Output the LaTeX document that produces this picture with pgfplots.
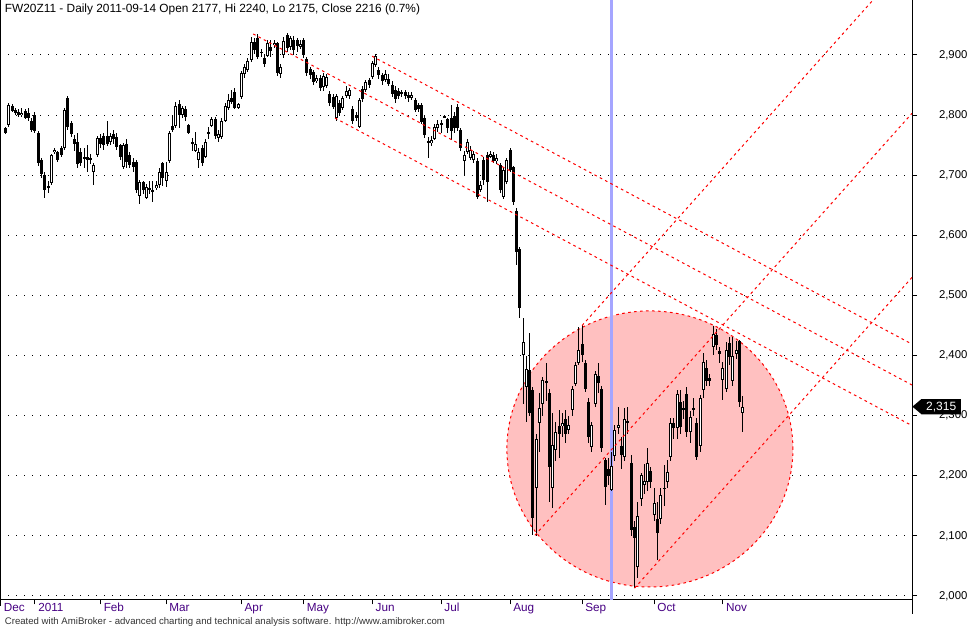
\documentclass[border=0pt]{standalone}
\usepackage{pgfplots}
\pgfplotsset{compat=1.18}
\usepackage{pgfplotstable}
\usepackage{fontspec}
\setmainfont{Liberation Sans}
\usetikzlibrary{shapes.symbols}

\definecolor{zonepink}{RGB}{255,192,192}
\definecolor{selblue}{RGB}{165,165,255}
\definecolor{datecol}{RGB}{70,0,130}

% FW20Z11 daily bars, i = trading day (0 = 2011-01-03)
\pgfplotstableread{
i O H L C
-9 2779 2781 2769 2771
-8 2783 2820 2780 2817
-7 2815 2818 2805 2807
-6 2808 2811 2800 2803
-5 2805 2810 2797 2800
-4 2800 2812 2797 2804
-3 2806 2810 2793 2796
-2 2803 2812 2790 2795
-1 2790 2795 2772 2775
0 2800 2805 2770 2773
1 2771 2773 2715 2720
2 2725 2728 2695 2702
3 2700 2705 2662 2675
4 2682 2690 2670 2678
5 2687 2736 2683 2733
6 2738 2746 2735 2742
7 2738 2741 2722 2726
8 2745 2748 2730 2733
9 2745 2812 2742 2808
10 2828 2832 2776 2780
11 2787 2790 2763 2768
12 2760 2767 2740 2752
13 2755 2770 2712 2718
14 2738 2745 2715 2720
15 2727 2745 2712 2730
16 2730 2750 2705 2725
17 2725 2735 2718 2728
18 2705 2720 2684 2717
19 2733 2765 2730 2762
20 2762 2768 2745 2752
21 2765 2770 2742 2750
22 2765 2790 2748 2752
23 2755 2770 2750 2765
24 2768 2775 2752 2760
25 2764 2770 2742 2747
26 2750 2752 2725 2731
27 2714 2753 2710 2750
28 2752 2760 2712 2722
29 2733 2738 2712 2717
30 2722 2728 2705 2714
31 2722 2725 2670 2675
32 2665 2692 2652 2688
33 2688 2690 2668 2675
34 2662 2685 2660 2680
35 2678 2690 2668 2675
36 2675 2690 2655 2674
37 2678 2690 2675 2683
38 2683 2712 2678 2705
39 2720 2722 2682 2696
40 2690 2722 2680 2705
41 2723 2773 2720 2770
42 2782 2800 2772 2776
43 2782 2822 2778 2815
44 2818 2825 2778 2800
45 2800 2815 2795 2812
46 2810 2815 2790 2797
47 2783 2785 2768 2770
48 2755 2762 2740 2752
49 2740 2772 2738 2752
50 2725 2745 2712 2739
51 2745 2750 2715 2720
52 2731 2760 2728 2756
53 2772 2780 2760 2768
54 2782 2797 2780 2793
55 2793 2797 2760 2765
56 2762 2775 2755 2768
57 2764 2795 2760 2790
58 2790 2820 2788 2815
59 2812 2835 2808 2825
60 2828 2842 2818 2822
61 2838 2845 2810 2812
62 2812 2820 2810 2818
63 2830 2873 2826 2870
64 2868 2885 2862 2880
65 2875 2895 2872 2890
66 2892 2930 2888 2922
67 2922 2928 2902 2908
68 2928 2935 2893 2897
69 2904 2910 2897 2905
70 2895 2900 2880 2885
71 2898 2925 2897 2920
72 2913 2925 2897 2906
73 2916 2925 2912 2920
74 2920 2922 2865 2870
75 2869 2885 2862 2880
76 2900 2930 2895 2924
77 2933 2936 2905 2911
78 2914 2932 2908 2928
79 2925 2932 2900 2908
80 2925 2928 2905 2915
81 2914 2925 2910 2918
82 2925 2928 2895 2900
83 2894 2896 2865 2870
84 2876 2880 2860 2866
85 2872 2875 2850 2855
86 2857 2866 2853 2861
87 2861 2866 2840 2845
88 2847 2870 2840 2865
89 2848 2868 2845 2863
90 2835 2840 2815 2820
91 2830 2835 2810 2813
92 2795 2835 2790 2831
93 2820 2825 2798 2804
94 2812 2832 2808 2828
95 2832 2848 2828 2840
96 2832 2845 2826 2842
97 2811 2815 2785 2790
98 2801 2805 2790 2796
99 2781 2828 2778 2825
100 2843 2848 2822 2826
101 2842 2858 2838 2855
102 2858 2862 2845 2850
103 2864 2890 2860 2886
104 2883 2902 2880 2898
105 2875 2880 2860 2867
106 2867 2870 2850 2856
107 2858 2875 2855 2869
108 2860 2868 2848 2852
109 2850 2856 2830 2835
110 2842 2848 2820 2826
111 2840 2845 2826 2832
112 2835 2842 2830 2838
113 2838 2842 2826 2832
114 2834 2838 2822 2828
115 2828 2838 2825 2834
116 2825 2828 2805 2808
117 2817 2820 2805 2810
118 2817 2820 2785 2789
119 2795 2798 2762 2767
120 2754 2764 2728 2757
121 2754 2765 2748 2758
122 2761 2786 2758 2781
123 2778 2792 2772 2786
124 2785 2792 2770 2787
125 2798 2800 2795 2797
126 2793 2796 2770 2778
127 2795 2817 2759 2773
128 2798 2805 2770 2778
129 2814 2818 2774 2778
130 2775 2778 2740 2745
131 2724 2740 2700 2734
132 2739 2760 2735 2756
133 2728 2748 2725 2742
134 2725 2740 2720 2736
135 2723 2728 2660 2664
136 2676 2690 2672 2684
137 2725 2730 2684 2692
138 2734 2738 2656 2689
139 2731 2740 2728 2736
140 2734 2738 2720 2723
141 2723 2735 2718 2728
142 2717 2720 2670 2676
143 2664 2712 2660 2709
144 2689 2728 2685 2725
145 2742 2745 2705 2709
146 2714 2716 2650 2656
147 2641 2645 2551 2573
148 2578 2580 2462 2479
149 2401 2462 2320 2423
150 2348 2400 2290 2377
151 2376 2437 2300 2305
152 2343 2347 2101 2129
153 2179 2270 2099 2261
154 2287 2337 2240 2312
155 2319 2365 2300 2360
156 2357 2387 2325 2354
157 2338 2345 2157 2215
158 2179 2304 2146 2251
159 2243 2290 2225 2273
160 2282 2310 2230 2270
161 2282 2305 2265 2287
162 2295 2310 2255 2270
163 2276 2300 2270 2284
164 2309 2350 2300 2345
165 2353 2390 2350 2384
166 2388 2448 2385 2409
167 2419 2450 2390 2401
168 2387 2393 2340 2345
169 2323 2330 2255 2265
170 2248 2290 2240 2284
171 2319 2375 2315 2370
172 2366 2387 2337 2355
173 2345 2350 2240 2246
174 2226 2230 2151 2181
175 2212 2230 2185 2199
176 2177 2240 2175 2216
177 2233 2285 2225 2276
178 2280 2315 2270 2284
179 2250 2265 2212 2235
180 2232 2312 2225 2295
181 2291 2315 2270 2288
182 2222 2235 2100 2109
183 2115 2125 2013 2097
184 2049 2157 2030 2133
185 2162 2205 2150 2201
186 2184 2220 2170 2192
187 2189 2246 2175 2221
188 2208 2215 2179 2189
189 2134 2179 2125 2155
190 2128 2157 2060 2104
191 2128 2179 2120 2168
192 2178 2218 2150 2180
193 2190 2226 2180 2207
194 2232 2296 2225 2287
195 2287 2296 2262 2279
196 2279 2343 2262 2336
197 2322 2343 2270 2281
198 2313 2325 2295 2310
199 2336 2348 2265 2273
200 2272 2307 2254 2298
201 2312 2330 2300 2309
202 2287 2296 2226 2232
203 2249 2335 2240 2329
204 2343 2404 2330 2390
205 2379 2393 2350 2357
206 2362 2370 2350 2358
207 2415 2449 2401 2436
208 2434 2445 2410 2418
209 2408 2415 2387 2403
210 2359 2390 2326 2379
211 2345 2423 2340 2409
212 2421 2431 2385 2398
213 2357 2431 2350 2399
214 2402 2425 2395 2409
215 2424 2426 2315 2322
216 2305 2333 2273 2315
}\bars

\begin{document}
\begin{tikzpicture}
\begin{axis}[
    at={(0pt,0pt)}, anchor=north west,
    scale only axis, width=684pt, height=449.6pt,
    set layers, clip mode=individual,
    xmin=-10.68, xmax=267.7, ymin=1994.2, ymax=2991.5,
    axis x line*=bottom, axis y line*=right,
    axis line style={-, black, line width=0.75pt},
    xtick={-10.5,0,20,40,63,82,103,124,145,167,189,210},
    xticklabels={Dec,2011,Feb,Mar,Apr,May,Jun,Jul,Aug,Sep,Oct,Nov},
    ytick={2000,2100,...,2900},
    tick align=outside, major tick length=3.75pt,
    tick style={black, line width=0.75pt},
    xticklabel style={font=\fontsize{8.8}{10}\selectfont, text=datecol,
        anchor=base west, inner sep=0pt, xshift=2.25pt, yshift=-5pt},
    yticklabel style={font=\fontsize{8.5}{10}\selectfont, anchor=east,
        inner sep=0pt, xshift=38pt},
    /pgf/number format/1000 sep={,},
    /pgf/number format/assume math mode=true,
    ymajorgrids,
    grid style={black, line width=0.75pt, dash pattern=on 0.75pt off 5.25pt},
    candle/.style={draw=none, mark=none,
        error bars/.cd, y dir=both, y explicit, error mark=none,
        error bar style={solid, line cap=butt, #1}},
]
% highlighted zone
\fill[zonepink, on layer=axis background]
    (axis cs:187.7,2244.6) ellipse [x radius=43.65, y radius=229.6];
\draw[red, line width=0.75pt, dash pattern=on 2pt off 2.5pt]
    (axis cs:187.7,2244.6) ellipse [x radius=43.65, y radius=229.6];

% selected day
\addplot[selblue, line width=2.5pt] coordinates {(176,1990) (176,3000)};

% wicks
\addplot[candle={draw=black, line width=0.75pt}]
    table[x=i, y expr={(\thisrow{H}+\thisrow{L})/2},
          y error expr={(\thisrow{H}-\thisrow{L})/2}] {\bars};
% bodies
\addplot[candle={draw=black, line width=2.25pt}]
    table[x=i, y expr={(\thisrow{O}+\thisrow{C})/2},
          y error expr={max(abs(\thisrow{C}-\thisrow{O}),1.4)/2}] {\bars};
% hollow up bars
\addplot[candle={draw=white, line width=0.75pt}]
    table[x=i, y expr={(\thisrow{O}+\thisrow{C})/2},
          y error expr={max(\thisrow{C}-\thisrow{O}-3.3,0)/2}] {\bars};

% trend channel (down)
\addplot[red, line width=0.75pt, dash pattern=on 2pt off 2.5pt] coordinates {(102.9,2898) (267.7,2419)};
\addplot[red, line width=0.75pt, dash pattern=on 2pt off 2.5pt] coordinates {(66.6,2935) (267.7,2351)};
\addplot[red, line width=0.75pt, dash pattern=on 2pt off 2.5pt] coordinates {(91.6,2795) (267.7,2283.4)};
% trend channel (up)
\addplot[red, line width=0.75pt, dash pattern=on 2pt off 2.5pt] coordinates {(152.6,2101) (267.7,2803)};
\addplot[red, line width=0.75pt, dash pattern=on 2pt off 2.5pt] coordinates {(167,2450) (267.7,3064)};
\addplot[red, line width=0.75pt, dash pattern=on 2pt off 2.5pt] coordinates {(183,2013) (267.7,2530)};

% frame bits
\draw[black, line width=1.5pt] (rel axis cs:0,1) -- (rel axis cs:0,0) -- ++(0pt,-5pt);
\draw[black, line width=0.75pt] (rel axis cs:1,0) -- ++(0pt,-11pt);

% last price tag
\node[signal, signal to=west, signal pointer angle=80, fill=black, text=white,
    font=\fontsize{9}{10}\selectfont, inner xsep=3.5pt, inner ysep=2pt,
    minimum height=11pt, anchor=west] at (axis cs:267.7,2315) {2,315};

% title and footer
\node[anchor=base west, inner sep=0pt, xshift=3.5pt, yshift=-9.2pt,
    font=\fontsize{8.9}{10}\selectfont] at (rel axis cs:0,1)
    {FW20Z11 - Daily 2011-09-14 Open 2177, Hi 2240, Lo 2175, Close 2216 (0.7\%)};
\node[anchor=base west, inner sep=0pt, xshift=3.5pt, yshift=-18.4pt,
    font=\fontsize{7.2}{8}\selectfont, text=black!80] at (rel axis cs:0,0)
    {Created with AmiBroker - advanced charting and technical analysis software. http://www.amibroker.com};
\end{axis}
\pgfresetboundingbox
\path[use as bounding box] (0pt,0pt) rectangle (729pt,-470.25pt);
\end{tikzpicture}
\end{document}
